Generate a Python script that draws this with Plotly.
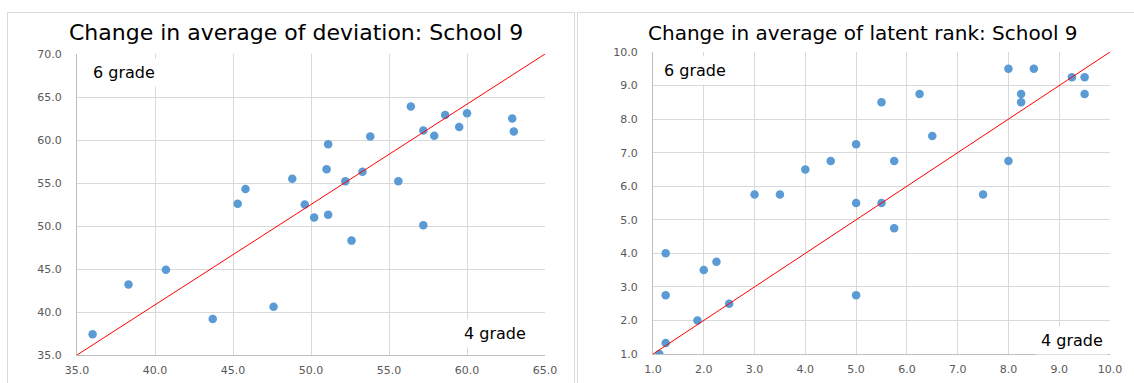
import plotly.graph_objects as go

# Average deviation score per class: grade 4 (x) vs grade 6 (y)
dev_grade4 = [36.0, 38.3, 40.7, 43.7, 47.6, 45.3, 45.8, 48.8, 49.6, 50.2, 51.1, 51.0, 51.1, 52.2,
              52.6, 53.3, 53.8, 55.6, 56.4, 57.2, 57.2, 57.9, 58.6, 59.5, 60.0, 62.9, 63.0]
dev_grade6 = [37.4, 43.2, 44.9, 39.2, 40.6, 52.6, 54.3, 55.5, 52.5, 51.0, 51.3, 56.6, 59.5, 55.2,
              48.3, 56.3, 60.4, 55.2, 63.9, 50.1, 61.1, 60.5, 62.9, 61.5, 63.1, 62.5, 61.0]

# Average latent rank per class: grade 4 (x) vs grade 6 (y)
rank_grade4 = [1.125, 1.25, 1.25, 1.25, 1.875, 2.0, 2.25, 2.5, 3.0, 3.5, 4.0, 4.5, 5.0, 5.0, 5.0,
               5.5, 5.5, 5.75, 5.75, 6.25, 6.5, 7.5, 8.0, 8.0, 8.25, 8.25, 8.5, 9.25, 9.5, 9.5]
rank_grade6 = [1.0, 1.33, 2.75, 4.0, 2.0, 3.5, 3.75, 2.5, 5.75, 5.75, 6.5, 6.75, 7.25, 5.5, 2.75,
               8.5, 5.5, 6.75, 4.75, 8.75, 7.5, 5.75, 9.5, 6.75, 8.75, 8.5, 9.5, 9.25, 9.25, 8.75]

# Reference diagonals
dev_ref_x = [35, 65]
dev_ref_y = [35, 70]
rank_ref_x = [1, 10]
rank_ref_y = [1, 10]

dev_ticks = [35, 40, 45, 50, 55, 60, 65, 70]
rank_ticks = [1, 2, 3, 4, 5, 6, 7, 8, 9, 10]

titles = ["Change in average of deviation: School 9",
          "Change in average of latent rank: School 9"]
upper_label = "6 grade"
lower_label = "4 grade"

W, H = 1134, 383
px = lambda v: v / W
py = lambda v: 1 - v / H

DOT = "#5b9bd5"
GRID = "#d9d9d9"
AXIS = "#bfbfbf"
TICKF = dict(family="DejaVu Sans", size=11, color="#595959")
TXT = "DejaVu Sans"

fig = go.Figure()

fig.add_trace(go.Scatter(x=dev_grade4, y=dev_grade6, mode="markers",
                         marker=dict(color=DOT, size=8.5), xaxis="x", yaxis="y",
                         showlegend=False, hoverinfo="x+y"))
fig.add_trace(go.Scatter(x=dev_ref_x, y=dev_ref_y, mode="lines",
                         line=dict(color="#ff0000", width=1), xaxis="x", yaxis="y",
                         showlegend=False, hoverinfo="skip"))
fig.add_trace(go.Scatter(x=rank_grade4, y=rank_grade6, mode="markers",
                         marker=dict(color=DOT, size=8.5), xaxis="x2", yaxis="y2",
                         showlegend=False, hoverinfo="x+y"))
fig.add_trace(go.Scatter(x=rank_ref_x, y=rank_ref_y, mode="lines",
                         line=dict(color="#ff0000", width=1), xaxis="x2", yaxis="y2",
                         showlegend=False, hoverinfo="skip"))


def axis(domain, rng, ticks, anchor, standoff):
    return dict(domain=domain, range=rng, tickvals=ticks,
                ticktext=[f"{t:.1f}" for t in ticks], tickfont=TICKF,
                showgrid=True, gridcolor=GRID, gridwidth=1, zeroline=False,
                showline=True, linecolor=AXIS, linewidth=1,
                ticks="outside", ticklen=standoff, tickcolor="rgba(0,0,0,0)",
                anchor=anchor, automargin=False, fixedrange=True)


fig.update_layout(
    width=W, height=H, margin=dict(l=0, r=0, t=0, b=0),
    paper_bgcolor="white", plot_bgcolor="white", template="none",
    xaxis=axis([px(77), px(545)], [35, 65], dev_ticks[:-1], "y", 5),
    yaxis=axis([py(355), py(54)], [35, 70], dev_ticks, "x", 12),
    xaxis2=axis([px(653), px(1110)], [1, 10], rank_ticks, "y2", 5),
    yaxis2=axis([py(354), py(52)], [1, 10], rank_ticks, "x2", 12),
)

# Panel frames
fig.add_shape(type="rect", xref="paper", yref="paper",
              x0=px(7.5), x1=px(574.5), y0=-0.05, y1=py(12.5),
              line=dict(color=GRID, width=1), layer="below")
fig.add_shape(type="rect", xref="paper", yref="paper",
              x0=px(577.5), x1=1.05, y0=-0.05, y1=py(12.5),
              line=dict(color=GRID, width=1), layer="below")

# Titles
fig.add_annotation(text=titles[0], xref="paper", yref="paper", x=px(296), y=py(33),
                   xanchor="center", yanchor="middle", showarrow=False,
                   font=dict(family=TXT, size=22, color="#000000"))
fig.add_annotation(text=titles[1], xref="paper", yref="paper", x=px(863), y=py(33),
                   xanchor="center", yanchor="middle", showarrow=False,
                   font=dict(family=TXT, size=20, color="#000000"))

# Grade labels on white boxes
labels = [(upper_label, 88, 72, "left"), (lower_label, 531, 333, "right"),
          (upper_label, 659, 70, "left"), (lower_label, 1108, 340, "right")]
for text, x, y, anc in labels:
    fig.add_annotation(text=text, xref="paper", yref="paper", x=px(x), y=py(y),
                       xanchor=anc, yanchor="middle", showarrow=False,
                       bgcolor="white", borderpad=4,
                       font=dict(family=TXT, size=16, color="#000000"))

fig.write_html("out.html")
